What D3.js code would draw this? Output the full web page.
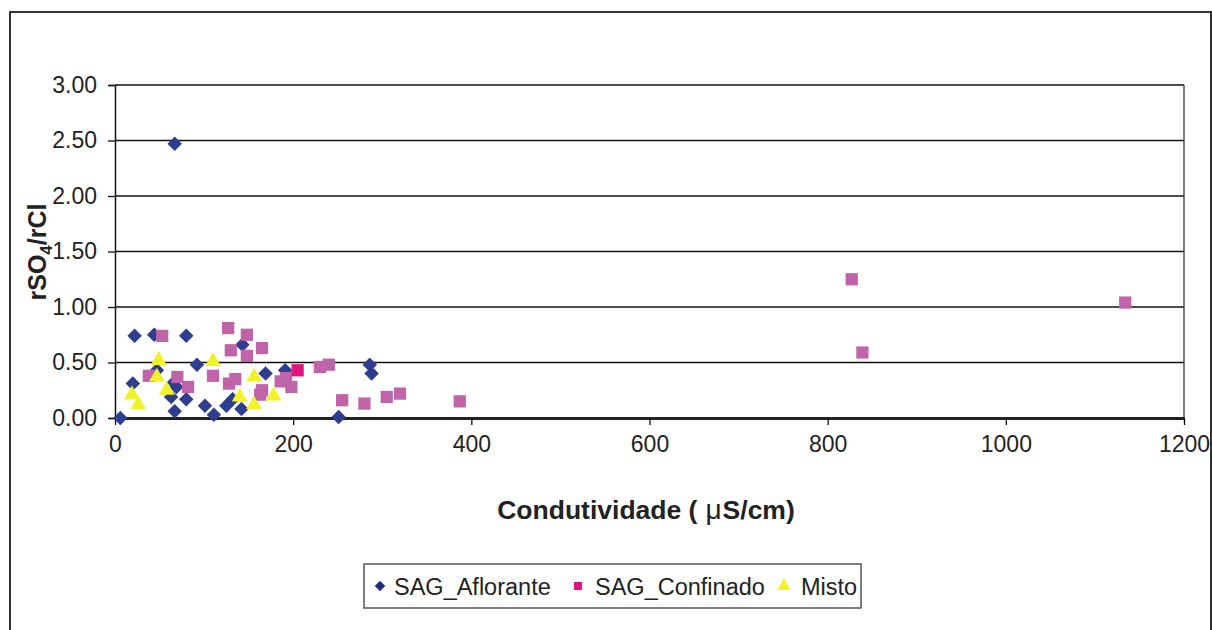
<!DOCTYPE html>
<html>
<head>
<meta charset="utf-8">
<script src="https://cdn.jsdelivr.net/npm/d3@7"></script>
<style>
  body { margin: 0; background: #fff; }
  svg text { font-family: "Liberation Sans", Arial, sans-serif; fill: #222; }
</style>
</head>
<body>
<div id="chart"></div>
<script>
// [condutividade, rSO4/rCl]
const aflorante = [
  [6, 0.00], [20, 0.31], [22, 0.74], [44, 0.75], [47, 0.43], [63, 0.19],
  [66, 0.32], [67, 0.06], [69, 0.28], [67, 2.47], [80, 0.74], [80, 0.17],
  [92, 0.48], [101, 0.11], [111, 0.03], [125, 0.11], [132, 0.17], [142, 0.08],
  [143, 0.66], [169, 0.40], [191, 0.43], [251, 0.01], [286, 0.48], [288, 0.40]
];
const confinado = [
  [38, 0.38], [53, 0.74], [70, 0.37], [82, 0.28], [110, 0.38], [127, 0.81],
  [128, 0.31], [130, 0.61], [135, 0.35], [148, 0.75], [148, 0.56], [163, 0.21],
  [165, 0.25], [165, 0.63], [186, 0.33], [192, 0.36], [198, 0.28], [230, 0.46],
  [240, 0.48], [255, 0.16], [280, 0.13], [305, 0.19], [320, 0.22], [387, 0.15],
  [827, 1.25], [839, 0.59], [1134, 1.04]
];
// the one confinado point drawn in the legend colour
const confinadoDestaque = [[205, 0.43]];
const misto = [
  [19, 0.21], [26, 0.12], [47, 0.37], [49, 0.52], [58, 0.25], [110, 0.51],
  [140, 0.19], [156, 0.37], [156, 0.12], [178, 0.20]
];
const xTicks = [0, 200, 400, 600, 800, 1000, 1200];
const yTicks = [0, 0.5, 1, 1.5, 2, 2.5, 3];
const legendItems = ["SAG_Aflorante", "SAG_Confinado", "Misto"];

const W = 1212, H = 630;
const plot = { left: 115, right: 1184, top: 85, bottom: 418 };

const svg = d3.select("#chart").append("svg")
    .attr("width", W)
    .attr("height", H);

// outer frame
svg.append("rect")
    .attr("x", 10).attr("y", 12)
    .attr("width", 1201).attr("height", 640)
    .attr("fill", "none")
    .attr("stroke", "#333")
    .attr("stroke-width", 2);

const x = d3.scaleLinear().domain([0, 1200]).range([plot.left, plot.right]);
const y = d3.scaleLinear().domain([0, 3]).range([plot.bottom, plot.top]);

// gridlines
svg.append("g")
  .selectAll("line")
  .data(yTicks.filter(d => d > 0))
  .join("line")
    .attr("x1", plot.left).attr("x2", plot.right)
    .attr("y1", d => y(d)).attr("y2", d => y(d))
    .attr("stroke", "#111")
    .attr("stroke-width", 1.3);

// right edge of plot area
svg.append("line")
    .attr("x1", plot.right).attr("x2", plot.right)
    .attr("y1", plot.top).attr("y2", plot.bottom)
    .attr("stroke", "#333")
    .attr("stroke-width", 1.3);

// y axis
const yAxis = svg.append("g")
    .attr("transform", `translate(${plot.left},0)`)
    .call(d3.axisLeft(y).tickValues(yTicks).tickFormat(d3.format(".2f")).tickSize(7).tickPadding(11));
yAxis.select(".domain").attr("stroke", "#111").attr("stroke-width", 1.5);
yAxis.selectAll(".tick line").attr("stroke", "#111").attr("stroke-width", 1.3);
yAxis.selectAll("text").attr("font-size", 23).attr("fill", "#222");

// x axis
const xAxis = svg.append("g")
    .attr("transform", `translate(0,${plot.bottom})`)
    .call(d3.axisBottom(x).tickValues(xTicks).tickFormat(d3.format("d")).tickSize(7).tickPadding(11).tickSizeOuter(0));
xAxis.select(".domain").attr("stroke", "#222").attr("stroke-width", 3);
xAxis.selectAll(".tick line").attr("stroke", "#111").attr("stroke-width", 1.3);
xAxis.selectAll("text").attr("font-size", 23).attr("fill", "#222");

// axis titles
const yt = svg.append("text")
    .attr("transform", "translate(46,252) rotate(-90)")
    .attr("text-anchor", "middle")
    .attr("font-size", 25)
    .attr("font-weight", "bold");
yt.append("tspan").text("rSO");
yt.append("tspan").attr("font-size", 17).attr("dy", 6).text("4");
yt.append("tspan").attr("dy", -6).text("/rCl");

const xt = svg.append("text")
    .attr("x", 646).attr("y", 519)
    .attr("text-anchor", "middle")
    .attr("font-size", 26.5)
    .attr("font-weight", "bold");
xt.append("tspan").text("Condutividade (");
xt.append("tspan").attr("font-weight", "normal").attr("font-size", 28).attr("dx", 8).text("\u03bc");
xt.append("tspan").attr("dx", 1).text("S/cm)");

// markers
const diamond = d3.symbol().type(d3.symbolSquare).size(105)();
const square = d3.symbol().type(d3.symbolSquare).size(150)();
const triangle = d3.symbol().type(d3.symbolTriangle).size(110)();

const colors = {
  aflorante: "#2e3d8f",
  confinado: "#c064aa",
  destaque: "#e0147c",
  misto: "#f2f22a"
};

svg.append("g").selectAll("path")
  .data(aflorante)
  .join("path")
    .attr("d", diamond)
    .attr("transform", d => `translate(${x(d[0])},${y(d[1])}) rotate(45)`)
    .attr("fill", colors.aflorante);

svg.append("g").selectAll("path")
  .data(confinado)
  .join("path")
    .attr("d", square)
    .attr("transform", d => `translate(${x(d[0])},${y(d[1])})`)
    .attr("fill", colors.confinado);

svg.append("g").selectAll("path")
  .data(confinadoDestaque)
  .join("path")
    .attr("d", square)
    .attr("transform", d => `translate(${x(d[0])},${y(d[1])})`)
    .attr("fill", colors.destaque);

svg.append("g").selectAll("path")
  .data(misto)
  .join("path")
    .attr("d", triangle)
    .attr("transform", d => `translate(${x(d[0])},${y(d[1])})`)
    .attr("fill", colors.misto);

// legend
const lg = svg.append("g");
lg.append("rect")
    .attr("x", 364).attr("y", 564)
    .attr("width", 497).attr("height", 44)
    .attr("fill", "#fff")
    .attr("stroke", "#555")
    .attr("stroke-width", 1.5);

const legendMarks = [
  { x: 380, d: d3.symbol().type(d3.symbolSquare).size(55)(), rot: 45, color: "#1f2a80" },
  { x: 578, d: d3.symbol().type(d3.symbolSquare).size(64)(), rot: 0, color: colors.destaque },
  { x: 784, d: d3.symbol().type(d3.symbolTriangle).size(80)(), rot: 0, color: colors.misto }
];
const legendText = [394, 595, 801];

lg.selectAll("path")
  .data(legendMarks)
  .join("path")
    .attr("d", d => d.d)
    .attr("transform", d => `translate(${d.x},586) rotate(${d.rot})`)
    .attr("fill", d => d.color);

lg.selectAll("text")
  .data(legendItems)
  .join("text")
    .attr("x", (d, i) => legendText[i])
    .attr("y", 595)
    .attr("font-size", 23.5)
    .text(d => d);
</script>
</body>
</html>
